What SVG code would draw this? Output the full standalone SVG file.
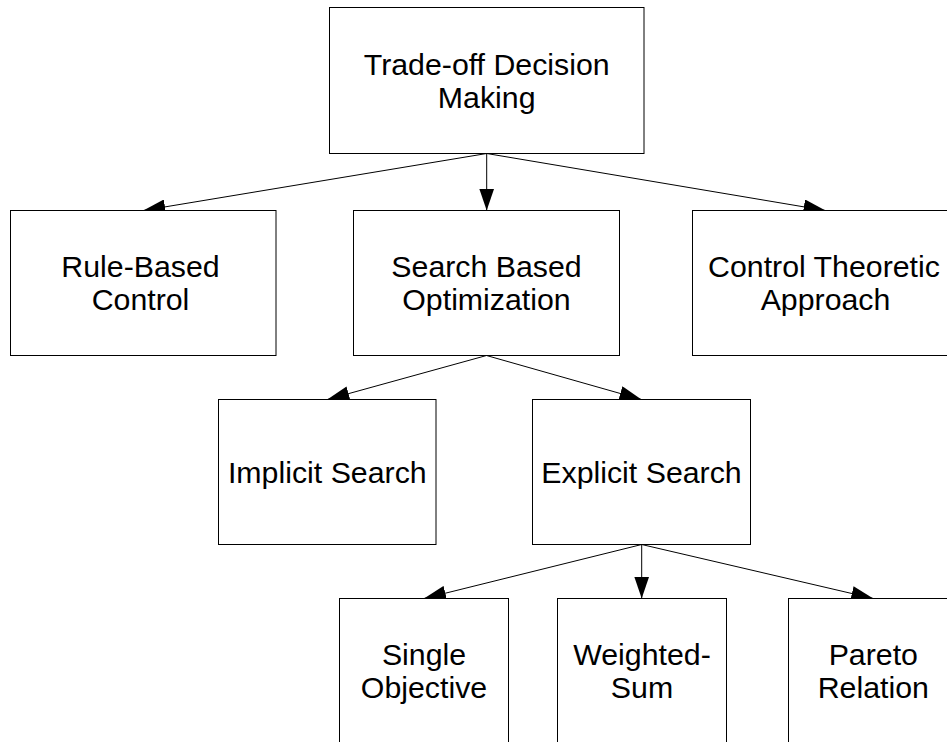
<svg xmlns="http://www.w3.org/2000/svg" width="947" height="742" viewBox="0 0 947 742">
<style>
.box{fill:#fff;stroke:#000;stroke-width:1}
.lbl{font-family:"Liberation Sans",Arial,sans-serif;font-size:30.3px;fill:#000;text-anchor:middle}
.edge{stroke:#000;stroke-width:1;fill:none;marker-end:url(#arr)}
</style>
<defs>
<marker id="arr" markerUnits="userSpaceOnUse" markerWidth="22" markerHeight="15" refX="22" refY="7.5" orient="auto" viewBox="0 0 22 15">
<path d="M0,0 L22,7.5 L0,15 z" fill="#000"/>
</marker>
</defs>
<rect width="947" height="742" fill="#fff"/>
<g id="connectors">
<line class="edge" x1="486.7" y1="153.5" x2="143.3" y2="210.5"/>
<line class="edge" x1="486.7" y1="153.5" x2="486.7" y2="210.5"/>
<line class="edge" x1="486.7" y1="153.5" x2="825.5" y2="210.5"/>
<line class="edge" x1="486.5" y1="355.5" x2="327.3" y2="399.5"/>
<line class="edge" x1="486.5" y1="355.5" x2="641.5" y2="399.5"/>
<line class="edge" x1="641.7" y1="544.5" x2="424" y2="598.5"/>
<line class="edge" x1="641.7" y1="544.5" x2="641.7" y2="598.5"/>
<line class="edge" x1="641.7" y1="544.5" x2="873.3" y2="598.5"/>
</g>
<g id="n-tradeoff">
<rect class="box" x="329.5" y="7.5" width="314.5" height="146"/>
<text class="lbl" x="486.7" y="74.5">Trade-off Decision</text>
<text class="lbl" x="486.7" y="108">Making</text>
</g>
<g id="n-rule">
<rect class="box" x="10.5" y="210.5" width="265.5" height="145"/>
<text class="lbl" x="140.5" y="277">Rule-Based</text>
<text class="lbl" x="140.5" y="310">Control</text>
</g>
<g id="n-search">
<rect class="box" x="353.5" y="210.5" width="266" height="145"/>
<text class="lbl" x="486.5" y="277">Search Based</text>
<text class="lbl" x="486.5" y="310">Optimization</text>
</g>
<g id="n-control">
<rect class="box" x="692.5" y="210.5" width="266" height="145"/>
<text class="lbl" x="824" y="277">Control Theoretic</text>
<text class="lbl" x="825.5" y="310">Approach</text>
</g>
<g id="n-implicit">
<rect class="box" x="218.5" y="399.5" width="217.5" height="145"/>
<text class="lbl" x="327.3" y="482.8">Implicit Search</text>
</g>
<g id="n-explicit">
<rect class="box" x="532.5" y="399.5" width="218" height="145"/>
<text class="lbl" x="641.5" y="482.8">Explicit Search</text>
</g>
<g id="n-single">
<rect class="box" x="339.5" y="598.5" width="169" height="145"/>
<text class="lbl" x="424" y="664.5">Single</text>
<text class="lbl" x="424" y="698.3">Objective</text>
</g>
<g id="n-weighted">
<rect class="box" x="557.5" y="598.5" width="169" height="145"/>
<text class="lbl" x="642" y="664.5">Weighted-</text>
<text class="lbl" x="642" y="698.3">Sum</text>
</g>
<g id="n-pareto">
<rect class="box" x="788.5" y="598.5" width="169.5" height="145"/>
<text class="lbl" x="873.3" y="664.5">Pareto</text>
<text class="lbl" x="873.3" y="698.3">Relation</text>
</g>
</svg>
